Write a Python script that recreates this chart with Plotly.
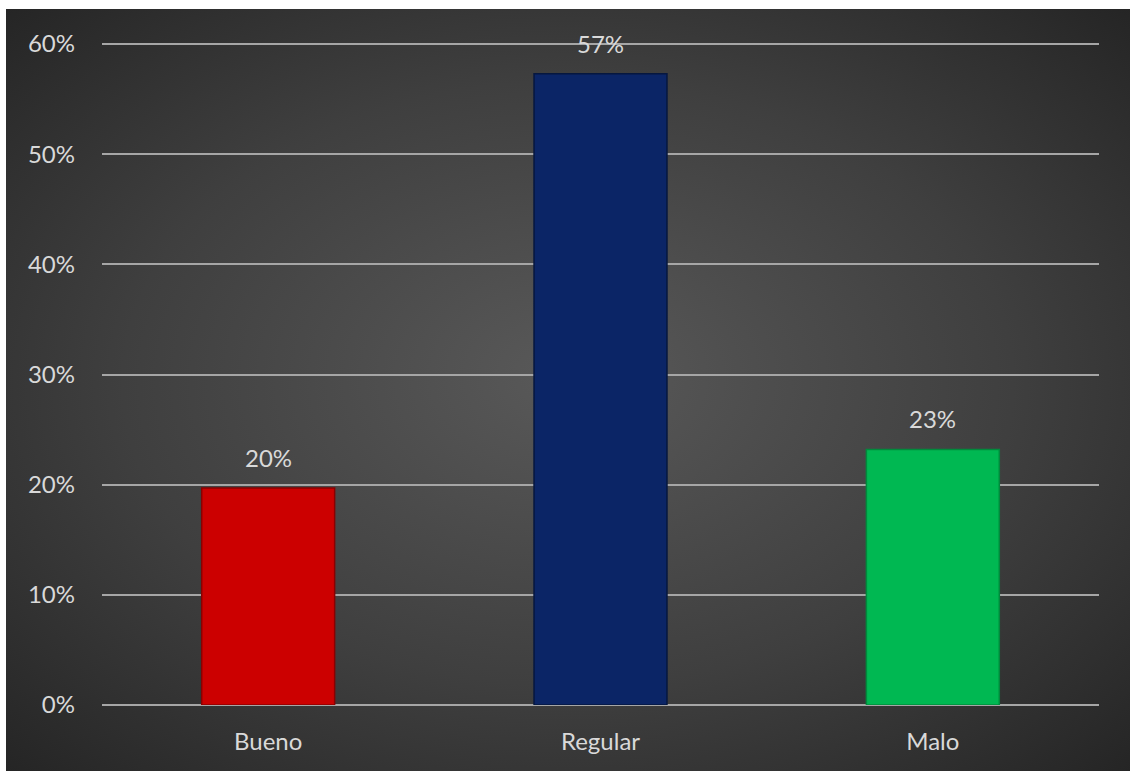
import base64
import plotly.graph_objects as go

categories = ["Bueno", "Regular", "Malo"]
values = [0.197, 0.573, 0.232]
labels = ["20%", "57%", "23%"]
colors = ["#cc0000", "#0b2566", "#00b852"]
line_colors = ["#8a0000", "#06173f", "#008a3c"]
tick_vals = [0, 0.1, 0.2, 0.3, 0.4, 0.5, 0.6]
tick_text = ["0%", "10%", "20%", "30%", "40%", "50%", "60%"]

svg = """<svg xmlns='http://www.w3.org/2000/svg' width='1124' height='762' viewBox='0 0 1124 762' preserveAspectRatio='none'>
<defs><radialGradient id='g' cx='0.5' cy='0.5' r='0.72' fx='0.5' fy='0.48'>
<stop offset='0' stop-color='#595959'/>
<stop offset='0.55' stop-color='#3f3f3f'/>
<stop offset='1' stop-color='#242424'/>
</radialGradient></defs>
<rect width='1124' height='762' fill='url(#g)'/></svg>"""
bg_src = "data:image/svg+xml;base64," + base64.b64encode(svg.encode()).decode()

font_family = "Lato, 'Open Sans', sans-serif"
FS = 24
TXT = "#d9d9d9"

fig = go.Figure(
    go.Bar(
        x=categories,
        y=values,
        marker=dict(color=colors, line=dict(color=line_colors, width=1.5)),
        hoverinfo="x+y",
    )
)

for c, v, t in zip(categories, values, labels):
    fig.add_annotation(
        x=c, y=v, text=t, showarrow=False,
        yanchor="bottom", yshift=14,
        font=dict(size=FS, color=TXT, family=font_family),
    )

W, H = 1130, 771
per = (705 - 44) / 0.6
pad_px = 4
ymax = 0.6 + pad_px / per
ml, mr, mb = 102, 31, 66
mt = 44 - pad_px
pw, ph = W - ml - mr, H - mt - mb

fig.add_layout_image(
    dict(
        source=bg_src,
        xref="paper", yref="paper",
        x=(6 - ml) / pw, y=(H - mb - 9) / ph,
        sizex=(W - 6) / pw, sizey=(H - 9) / ph,
        xanchor="left", yanchor="top",
        sizing="stretch", layer="below",
    )
)

fig.update_layout(
    width=W, height=H,
    margin=dict(l=ml, r=mr, t=mt, b=mb, pad=0),
    paper_bgcolor="white",
    plot_bgcolor="rgba(0,0,0,0)",
    bargap=0.6,
    showlegend=False,
    font=dict(family=font_family, size=FS, color=TXT),
    xaxis=dict(
        showgrid=False, showline=False, zeroline=False,
        ticks="", ticklabelstandoff=20,
        tickfont=dict(size=FS, color=TXT),
    ),
    yaxis=dict(
        range=[0, ymax], tickvals=tick_vals, ticktext=tick_text,
        showgrid=True, gridcolor="#a6a6a6", gridwidth=2,
        zeroline=True, zerolinecolor="#a6a6a6", zerolinewidth=2,
        showline=False, ticks="", ticklabelstandoff=26,
        tickfont=dict(size=FS, color=TXT),
    ),
)

fig.write_html(
    "out.html",
    config={"displayModeBar": False},
    post_script="document.body.style.margin='0';",
)
